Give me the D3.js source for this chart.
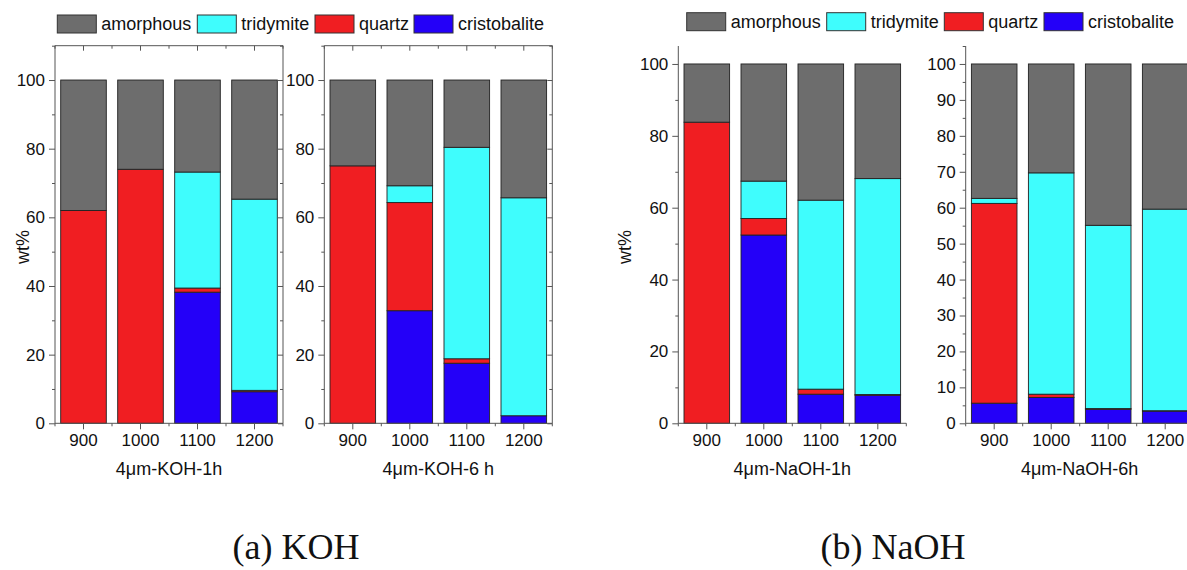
<!DOCTYPE html>
<html>
<head>
<meta charset="utf-8">
<script src="https://cdn.jsdelivr.net/npm/d3@7"></script>
<style>
  body { margin: 0; background: #fff; }
  svg text { font-family: "Liberation Sans", Arial, sans-serif; fill: #111; }
  .axis path, .axis line { stroke: #555; }
  .caption { font-family: "Liberation Serif", "DejaVu Serif", serif !important; }
</style>
</head>
<body>
<svg id="chart" width="1187" height="570"></svg>
<script>
// temperatures on the x axis
var temps = ["900", "1000", "1100", "1200"];
var phases = ["cristobalite", "quartz", "tridymite", "amorphous"]; // stack order, bottom -> top

// 4um-KOH-1h
var koh1hCristobalite = [0, 0, 38.2, 9.2];
var koh1hQuartz = [62, 74, 1.2, 0.4];
var koh1hTridymite = [0, 0, 33.8, 55.7];
var koh1hAmorphous = [38, 26, 26.8, 34.7];

// 4um-KOH-6h
var koh6hCristobalite = [0, 32.8, 17.5, 2.2];
var koh6hQuartz = [75, 31.5, 1.3, 0];
var koh6hTridymite = [0, 4.9, 61.6, 63.5];
var koh6hAmorphous = [25, 30.8, 19.6, 34.3];

// 4um-NaOH-1h
var naoh1hCristobalite = [0, 52.4, 8.1, 7.8];
var naoh1hQuartz = [83.8, 4.6, 1.4, 0.2];
var naoh1hTridymite = [0, 10.4, 52.6, 60.1];
var naoh1hAmorphous = [16.2, 32.6, 37.9, 31.9];

// 4um-NaOH-6h
var naoh6hCristobalite = [5.6, 7.2, 3.9, 3.4];
var naoh6hQuartz = [55.6, 0.9, 0.2, 0.1];
var naoh6hTridymite = [1.4, 61.6, 51.0, 56.1];
var naoh6hAmorphous = [37.4, 30.3, 44.9, 40.4];

var colors = {
  amorphous: "#6d6d6d",
  tridymite: "#3ffdfd",
  quartz: "#f01e22",
  cristobalite: "#2400f8"
};

function rows(cr, qu, tr, am) {
  return temps.map(function(t, i) {
    return { temp: t, cristobalite: cr[i], quartz: qu[i], tridymite: tr[i], amorphous: am[i] };
  });
}

var panels = [
  { title: "4\u03bcm-KOH-1h", data: rows(koh1hCristobalite, koh1hQuartz, koh1hTridymite, koh1hAmorphous),
    x0: 55, x1: 283, ymax: 110, yTop: 45.7, major: 20, boxed: true, ylabel: 23 },
  { title: "4\u03bcm-KOH-6 h", data: rows(koh6hCristobalite, koh6hQuartz, koh6hTridymite, koh6hAmorphous),
    x0: 324.3, x1: 552.3, ymax: 110, yTop: 45.7, major: 20, boxed: true },
  { title: "4\u03bcm-NaOH-1h", data: rows(naoh1hCristobalite, naoh1hQuartz, naoh1hTridymite, naoh1hAmorphous),
    x0: 678.3, x1: 906.3, ymax: 105, yTop: 46, major: 20, boxed: false, ylabel: 625 },
  { title: "4\u03bcm-NaOH-6h", data: rows(naoh6hCristobalite, naoh6hQuartz, naoh6hTridymite, naoh6hAmorphous),
    x0: 965.7, x1: 1193.7, ymax: 105, yTop: 46, major: 10, boxed: false }
];

var svg = d3.select("#chart");
var yBottom = 423.3;
var stack = d3.stack().keys(phases);

panels.forEach(function(p) {
  var x = d3.scaleBand().domain(temps).range([p.x0, p.x1]).paddingInner(0.2).paddingOuter(0.1);
  var y = d3.scaleLinear().domain([0, p.ymax]).range([yBottom, p.yTop]);
  var g = svg.append("g");

  var majors = d3.range(0, 100 + 0.1, p.major);
  var minors = d3.range(p.major / 2, p.ymax + 0.1, p.major);
  var bounds = d3.range(0, temps.length + 1).map(function(i) { return p.x0 + i * x.step(); });

  // bars
  var series = stack(p.data);
  g.selectAll("g.layer").data(series).enter().append("g")
      .attr("fill", function(d) { return colors[d.key]; })
    .selectAll("rect").data(function(d) { return d; }).enter().append("rect")
      .attr("x", function(d) { return x(d.data.temp); })
      .attr("width", x.bandwidth())
      .attr("y", function(d) { return y(d[1]); })
      .attr("height", function(d) { return Math.max(0, y(d[0]) - y(d[1])); })
      .attr("stroke", "#222")
      .attr("stroke-width", function(d) { return d[1] - d[0] > 0 ? 0.9 : 0; });

  // left axis
  var left = g.append("g").attr("class", "axis")
      .attr("transform", "translate(" + p.x0 + ",0)")
      .call(d3.axisLeft(y).tickValues(majors).tickSize(6).tickSizeOuter(0).tickPadding(4));
  left.select(".domain").attr("d", "M0," + yBottom + "V" + p.yTop);
  left.selectAll("text").style("font-size", "17px");
  g.append("g").attr("class", "axis")
      .attr("transform", "translate(" + p.x0 + ",0)")
      .call(d3.axisLeft(y).tickValues(minors).tickSize(3).tickFormat(""))
      .select(".domain").remove();

  // bottom axis
  var bottom = g.append("g").attr("class", "axis")
      .attr("transform", "translate(0," + yBottom + ")")
      .call(d3.axisBottom(x).tickSize(6).tickSizeOuter(0).tickPadding(5));
  bottom.select(".domain").attr("d", "M" + p.x0 + ",0H" + p.x1);
  bottom.selectAll("text").style("font-size", "17px");
  g.selectAll("line.xminor").data(bounds).enter().append("line")
      .attr("class", "xminor")
      .attr("x1", function(d) { return d; }).attr("x2", function(d) { return d; })
      .attr("y1", yBottom).attr("y2", yBottom + 3)
      .attr("stroke", "#555");

  if (p.boxed) {
    // mirrored top and right axes, ticks pointing inward
    var top = g.append("g").attr("class", "axis")
        .attr("transform", "translate(0," + p.yTop + ")")
        .call(d3.axisTop(x).tickSize(-5).tickSizeOuter(0).tickFormat(""));
    top.select(".domain").attr("d", "M" + p.x0 + ",0H" + p.x1);
    g.selectAll("line.tminor").data(bounds).enter().append("line")
        .attr("class", "tminor")
        .attr("x1", function(d) { return d; }).attr("x2", function(d) { return d; })
        .attr("y1", p.yTop).attr("y2", p.yTop + 3)
        .attr("stroke", "#555");
    var right = g.append("g").attr("class", "axis")
        .attr("transform", "translate(" + p.x1 + ",0)")
        .call(d3.axisRight(y).tickValues(majors).tickSize(-5).tickSizeOuter(0).tickFormat(""));
    right.select(".domain").attr("d", "M0," + yBottom + "V" + p.yTop);
    g.append("g").attr("class", "axis")
        .attr("transform", "translate(" + p.x1 + ",0)")
        .call(d3.axisRight(y).tickValues(minors).tickSize(-3).tickFormat(""))
        .select(".domain").remove();
  }

  // x axis title
  g.append("text")
      .attr("x", (p.x0 + p.x1) / 2)
      .attr("y", 475)
      .attr("text-anchor", "middle")
      .style("font-size", "18px")
      .text(p.title);

  if (p.ylabel) {
    g.append("text")
        .attr("transform", "translate(" + (p.ylabel + 6) + ",247) rotate(-90)")
        .attr("text-anchor", "middle")
        .style("font-size", "18px")
        .text("wt%");
  }
});

// legends
var legends = [
  { y: 15, items: [[57.3, "amorphous"], [197.3, "tridymite"], [315, "quartz"], [414, "cristobalite"]] },
  { y: 12.7, items: [[686.7, "amorphous"], [826.7, "tridymite"], [944.3, "quartz"], [1044, "cristobalite"]] }
];
legends.forEach(function(l) {
  var lg = svg.append("g");
  var it = lg.selectAll("g").data(l.items).enter().append("g")
      .attr("transform", function(d) { return "translate(" + d[0] + "," + l.y + ")"; });
  it.append("rect")
      .attr("width", 39).attr("height", 18)
      .attr("fill", function(d) { return colors[d[1]]; })
      .attr("stroke", "#333").attr("stroke-width", 1);
  it.append("text")
      .attr("x", 44).attr("y", 15)
      .style("font-size", "18px")
      .text(function(d) { return d[1]; });
});

// sub-figure captions
svg.append("text").attr("class", "caption")
    .attr("x", 296).attr("y", 559).attr("text-anchor", "middle")
    .style("font-size", "36px")
    .text("(a) KOH");
svg.append("text").attr("class", "caption")
    .attr("x", 893).attr("y", 559).attr("text-anchor", "middle")
    .style("font-size", "36px")
    .text("(b) NaOH");
</script>
</body>
</html>
